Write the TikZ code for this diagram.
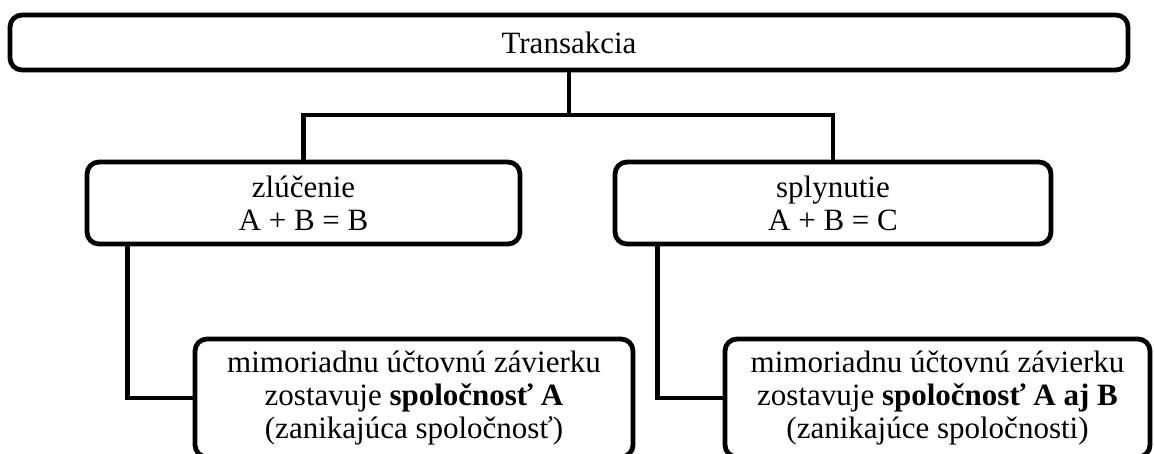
\documentclass[tikz,border=0pt]{standalone}
\usepackage{fontspec}
\setmainfont{Liberation Serif}
\begin{document}
\begin{tikzpicture}[x=1pt,y=1pt,
  box/.style={draw,line width=4.8pt,rounded corners=12pt,align=center,
    inner sep=0pt,font=\fontsize{31}{33}\selectfont},
  link/.style={line width=4.8pt}]
\useasboundingbox (0,0) rectangle (1154,-453);
% top level
\node[box,minimum width=1118pt,minimum height=55pt] (top) at (569,-42.5) {Transakcia};
% second level
\node[box,minimum width=433pt,minimum height=82pt] (ml) at (303.5,-203) {zlúčenie\\A + B = B};
\node[box,minimum width=436pt,minimum height=82pt] (mr) at (833,-203) {splynutie\\A + B = C};
% third level (runs past the lower edge)
\node[box,minimum width=438pt,minimum height=118pt] (bl) at (414,-398)
  {mimoriadnu účtovnú závierku\\zostavuje \textbf{spoločnosť A}\\(zanikajúca spoločnosť)};
\node[box,minimum width=425pt,minimum height=118pt] (br) at (937.5,-398)
  {mimoriadnu účtovnú závierku\\zostavuje \textbf{spoločnosť A aj B}\\(zanikajúce spoločnosti)};
% connectors
\coordinate (j) at (569,-115);
\draw[link] (top.south) -- (j);
\draw[link] (ml.north) |- (j) -| (mr.north);
\draw[link] ([xshift=43pt]ml.south west) |- (bl.west);
\draw[link] ([xshift=45pt]mr.south west) |- (br.west);
\end{tikzpicture}
\end{document}
